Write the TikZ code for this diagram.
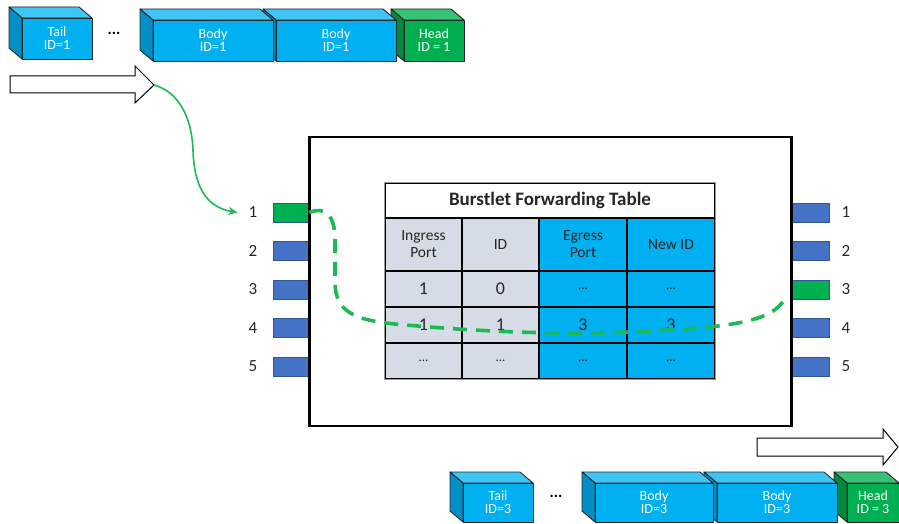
\documentclass[tikz,border=0pt]{standalone}
\usepackage{fontspec}
\setmainfont{Carlito}
\usetikzlibrary{arrows.meta}
\definecolor{pfront}{HTML}{00B0F0}
\definecolor{ptop}{HTML}{3DC5F5}
\definecolor{pside}{HTML}{0090C6}
\definecolor{gfront}{HTML}{00B050}
\definecolor{gtop}{HTML}{35C274}
\definecolor{gside}{HTML}{00893F}
\definecolor{portblue}{HTML}{4472C4}
\definecolor{portedge}{HTML}{2F5597}
\definecolor{tgrey}{HTML}{D6DCE5}
\definecolor{tblue}{HTML}{00B0F0}
\definecolor{lgreen}{HTML}{1DB954}
\definecolor{txt}{HTML}{262626}
\tikzset{
  pktline/.style={draw=black!85, line width=0.9pt, line join=round},
  pktface/.style={pktline, rectangle, inner sep=0pt, text=white, align=center,
    font=\fontsize{14}{13}\selectfont},
  cellbox/.style={draw=black, line width=1.4pt, rectangle, inner sep=0pt, align=center, text=txt},
  hdr/.style={font=\fontsize{15.5}{17}\selectfont},
  num/.style={font=\fontsize{18}{18}\selectfont},
  ell/.style={font=\fontsize{13}{13}\selectfont},
  portbox/.style={draw=portedge, line width=0.6pt, rectangle, inner sep=0pt, minimum height=19pt},
  portlbl/.style={text=txt, font=\fontsize{17}{17}\selectfont, inner sep=1pt},
  hollow/.style={draw=black, line width=1pt, fill=white, line join=miter},
  dotsl/.style={font=\fontsize{16}{16}\selectfont\bfseries, inner sep=0pt},
}
\newcommand\pkt[9]{%
  \filldraw[pktline, fill=#7] (#2,#3) -- (#2-13,#3-11) -- (#4-13,#3-11) -- (#4,#3) -- cycle;
  \filldraw[pktline, fill=#8] (#2,#3) -- (#2-13,#3-11) -- (#2-13,#5-11) -- (#2,#5) -- cycle;
  \node[pktface, fill=#6, minimum width={(#4-#2)*1pt}, minimum height={(#5-#3)*1pt}]
    (#1) at ({(#2+#4)/2},{(#3+#5)/2}) {#9};%
}
\newcommand\tcell[7]{%
  \node[cellbox, #6, minimum width={(#4-#2)*1pt}, minimum height={(#5-#3)*1pt}]
    (#1) at ({(#2+#4)/2},{(#3+#5)/2}) {#7};%
}
\begin{document}
\begin{tikzpicture}[x=1pt,y=-1pt]
\useasboundingbox (0,0) rectangle (899,524);
\fill[white] (0,0) rectangle (899,524);

% ---------- top packets (drawn right to left) ----------
\pkt{headA}{404}{20}{464}{61}{gfront}{gtop}{gside}{Head\\ID = 1}
\pkt{bodyA2}{276}{20}{396}{61}{pfront}{ptop}{pside}{Body\\ID=1}
\pkt{bodyA1}{153}{20}{273}{61}{pfront}{ptop}{pside}{Body\\ID=1}
\pkt{tailA}{22}{18}{92}{59}{pfront}{ptop}{pside}{Tail\\ID=1}
\node[dotsl] (dotsA) at (114,33) {...};

% ---------- input hollow arrow ----------
\draw[hollow] (10,76) -- (135,76) -- (135,66) -- (154,85) -- (135,103) -- (135,93) -- (10,93) -- cycle;
\coordinate (inTip) at (154,85);

% ---------- switch box ----------
\node[draw=black, line width=1.6pt, rectangle, minimum width=481pt, minimum height=289pt, inner sep=0pt]
  (switch) at (550.5,281.5) {};

% ---------- ports ----------
\foreach \i/\y in {1/212.5,2/251,3/289.5,4/328,5/366.5}{
  \node[portbox, fill=portblue, minimum width=36pt] (pl\i) at (291,\y) {};
  \node[portbox, fill=portblue, minimum width=38pt] (pr\i) at (810,\y) {};
  \node[portlbl] (ll\i) at (253,\y) {\i};
  \node[portlbl] (rl\i) at (846,\y) {\i};
}
\node[portbox, fill=gfront, minimum width=36pt] at (pl1) {};
\node[portbox, fill=gfront, minimum width=38pt] at (pr3) {};
\draw[black, line width=1.6pt] (switch.north west) -- (switch.south west);
\draw[black, line width=1.6pt] (switch.north east) -- (switch.south east);

% ---------- forwarding table ----------
\tcell{ttitle}{385}{183}{715}{218}{fill=white, font=\fontsize{19}{19}\selectfont\bfseries}{Burstlet Forwarding Table}
\tcell{h1}{385}{218}{462}{271}{fill=tgrey, hdr}{Ingress\\Port}
\tcell{h2}{462}{218}{539}{271}{fill=tgrey, hdr}{ID}
\tcell{h3}{539}{218}{627}{271}{fill=tblue, hdr}{Egress\\Port}
\tcell{h4}{627}{218}{715}{271}{fill=tblue, hdr}{New ID}
\tcell{a1}{385}{271}{462}{307}{fill=tgrey, num}{1}
\tcell{a2}{462}{271}{539}{307}{fill=tgrey, num}{0}
\tcell{a3}{539}{271}{627}{307}{fill=tblue, ell}{...}
\tcell{a4}{627}{271}{715}{307}{fill=tblue, ell}{...}
\tcell{b1}{385}{307}{462}{343}{fill=tgrey, num}{1}
\tcell{b2}{462}{307}{539}{343}{fill=tgrey, num}{1}
\tcell{b3}{539}{307}{627}{343}{fill=tblue, num}{3}
\tcell{b4}{627}{307}{715}{343}{fill=tblue, num}{3}
\tcell{c1}{385}{343}{462}{379}{fill=tgrey, ell}{...}
\tcell{c2}{462}{343}{539}{379}{fill=tgrey, ell}{...}
\tcell{c3}{539}{343}{627}{379}{fill=tblue, ell}{...}
\tcell{c4}{627}{343}{715}{379}{fill=tblue, ell}{...}
\draw[black!40, line width=0.6pt] (ttitle.north west) rectangle (c4.south east);

% ---------- green solid connector ----------
\coordinate (inEnd) at ([xshift=-10pt]ll1.west);
\draw[lgreen, line width=1.6pt, -{Stealth[length=9pt,width=8pt]}]
  (inTip) .. controls (180,92) and (192,120) .. (193,150)
          .. controls (194,185) and (205,207) .. (inEnd);

% ---------- green dashed path ----------
\coordinate (outEnd) at ([shift={(-5,7)}]pr3.west);
\draw[lgreen, line width=3.6pt, dash pattern=on 14pt off 9pt]
  (pl1.east) .. controls (325,206) and (335,215) .. (335,240)
  -- (335,282) .. controls (335,312) and (355,320) .. (395,324)
  .. controls (470,331) and (560,336) .. (650,331)
  .. controls (730,327) and (775,322) .. (outEnd);

% ---------- output hollow arrow ----------
\draw[hollow] (757,438) -- (883,438) -- (883,429) -- (898,447) -- (883,465) -- (883,456) -- (757,456) -- cycle;

% ---------- bottom packets (drawn right to left) ----------
\pkt{headB}{847}{483}{899}{522}{gfront}{gtop}{gside}{Head\\ID = 3}
\pkt{bodyB2}{717}{483}{837}{522}{pfront}{ptop}{pside}{Body\\ID=3}
\pkt{bodyB1}{595}{483}{713}{522}{pfront}{ptop}{pside}{Body\\ID=3}
\pkt{tailB}{463}{483}{533}{522}{pfront}{ptop}{pside}{Tail\\ID=3}
\node[dotsl] (dotsB) at (556,496) {...};
\end{tikzpicture}
\end{document}
